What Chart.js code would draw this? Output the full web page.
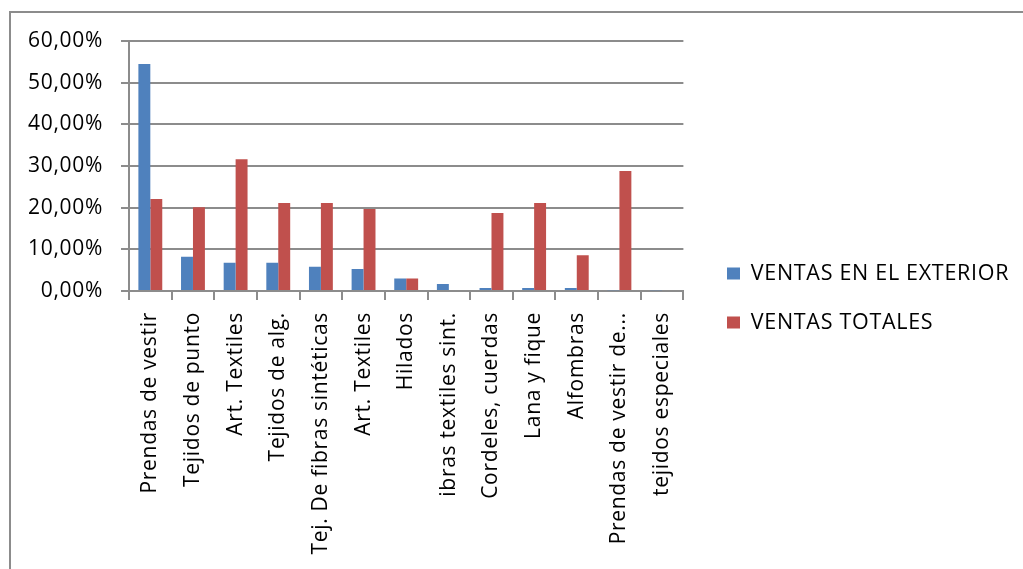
<!DOCTYPE html>
<html><head><meta charset="utf-8">
<script src="https://cdn.jsdelivr.net/npm/chart.js@4.4.0/dist/chart.umd.min.js"></script>
<style>
html,body{margin:0;padding:0;background:#fff;width:1023px;height:569px;overflow:hidden}
#frame{position:absolute;left:9px;top:11px;width:1040px;height:620px;border:2px solid #8c8c8c}
#wrap{position:absolute;left:0;top:0;width:1023px;height:569px}
</style></head><body>
<div id="frame"></div>
<div id="wrap"><canvas id="c"></canvas></div>
<script>
const categories = ["Prendas de vestir","Tejidos de punto","Art. Textiles","Tejidos de alg.","Tej. De fibras sintéticas","Art. Textiles","Hilados","ibras textiles sint.","Cordeles, cuerdas","Lana y fique","Alfombras","Prendas de vestir de...","tejidos especiales"];
const seriesNames = ["VENTAS EN EL EXTERIOR","VENTAS TOTALES"];
const ventasExterior = [54.5, 8.2, 6.8, 6.8, 5.8, 5.3, 3.0, 1.7, 0.7, 0.7, 0.7, 0.2, 0.2];
const ventasTotales = [22.1, 20.1, 31.6, 21.1, 21.1, 19.7, 3.0, 0, 18.7, 21.1, 8.6, 28.8, 0];
const yMin = 0, yMax = 60, yStep = 10;

const GRID = '#8c8c8c';
const FONT = "'Open Sans', sans-serif";
const LS = '0.7px';
const PLOT_RIGHT = 683, LEG_BOX_X = 727, LEG_DY = -7;

const spacing = {
  id: 'spacing',
  beforeUpdate(c){ c.ctx.letterSpacing = LS; },
  beforeDraw(c){ c.ctx.letterSpacing = LS; },
  afterLayout(c){
    const l = c.legend;
    if (l) {
      const pad = l.options.labels.padding;
      const dx = LEG_BOX_X - (l.left + pad);
      l.left += dx; l.right += dx; l.top += LEG_DY; l.bottom += LEG_DY;
    }
  }
};

new Chart(document.getElementById('c'), {
  type: 'bar',
  data: {
    labels: categories,
    datasets: [
      { label: seriesNames[0], data: ventasExterior, backgroundColor: '#4F81BD', borderWidth: 0 },
      { label: seriesNames[1], data: ventasTotales, backgroundColor: '#C0504D', borderWidth: 0 }
    ]
  },
  plugins: [spacing],
  options: {
    responsive: true,
    maintainAspectRatio: false,
    animation: false,
    events: [],
    categoryPercentage: 0.56,
    barPercentage: 1,
    layout: { padding: { top: 41, left: 0, right: 20, bottom: 0 } },
    plugins: {
      tooltip: { enabled: false },
      legend: {
        position: 'right',
        maxWidth: 1003 - PLOT_RIGHT,
        labels: {
          boxWidth: 13, boxHeight: 12, padding: 27.5,
          color: '#000',
          font: { family: FONT, size: 21.5 }
        }
      }
    },
    scales: {
      x: {
        grid: { display: true, drawOnChartArea: false, drawTicks: true, tickLength: 9, color: GRID, lineWidth: 2, offset: true },
        border: { display: true, color: GRID, width: 2 },
        ticks: { minRotation: 90, maxRotation: 90, autoSkip: false, padding: 12, color: '#000', font: { family: FONT, size: 21 } },
        afterFit(s){ s.height = 278; s.paddingLeft = 0; s.paddingRight = 0; }
      },
      y: {
        min: yMin, max: yMax,
        grid: { color: GRID, lineWidth: 2, drawTicks: true, tickLength: 8 },
        border: { display: true, color: GRID, width: 2 },
        ticks: {
          stepSize: yStep, padding: 18, color: '#000',
          font: { family: FONT, size: 21 },
          callback: v => v.toFixed(2).replace('.', ',') + '%'
        },
        afterFit(s){ s.width = 129; s.paddingTop = 0; s.paddingBottom = 0; }
      }
    }
  }
});
</script>
</body></html>
